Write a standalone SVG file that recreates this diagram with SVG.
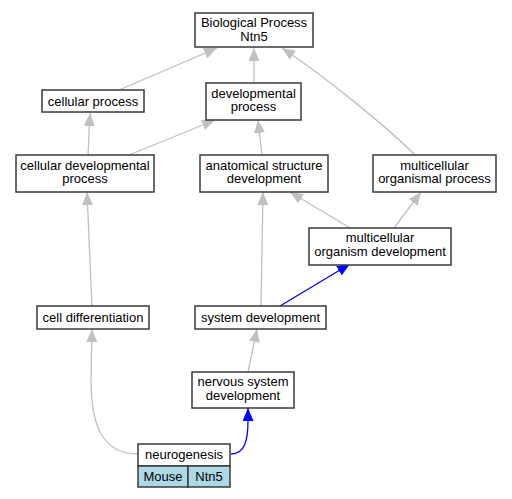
<svg xmlns="http://www.w3.org/2000/svg" width="512" height="499" viewBox="0 0 512 499">
<defs>
<style>
.n{fill:#ffffff;stroke:#3a3a3a;stroke-width:1.5}
.c{fill:#add8e6;stroke:#3a3a3a;stroke-width:1.5}
text{font-family:"Liberation Sans",Arial,sans-serif;font-size:13px;fill:#000;text-anchor:middle}
.e{fill:none;stroke:#c0c0c0;stroke-width:1.3}
.b{fill:none;stroke:#0000ff;stroke-width:1.3}
.eg{marker-end:url(#ag)}
.eb{marker-end:url(#ab)}
</style>
<marker id="ag" markerUnits="userSpaceOnUse" markerWidth="14" markerHeight="12" refX="13" refY="5.5" orient="auto"><path d="M0,0 L13,5.5 L0,11 z" fill="#c0c0c0"/></marker>
<marker id="ab" markerUnits="userSpaceOnUse" markerWidth="14" markerHeight="12" refX="13" refY="5.5" orient="auto"><path d="M0,0 L13,5.5 L0,11 z" fill="#0000ff"/></marker>
</defs>
<rect width="512" height="499" fill="#ffffff"/>
<g id="edges">
<path class="e eg" d="M119,90 L217,48"/>
<path class="e eg" d="M254,83 L254,48"/>
<path class="e eg" d="M415,155 C390,130 330,80 282,48"/>
<path class="e eg" d="M88,155 L90,113"/>
<path class="e eg" d="M129,155 L215,120"/>
<path class="e eg" d="M262,155 L258,120"/>
<path class="e eg" d="M92,306 L87,192"/>
<path class="e eg" d="M261,306 L263,192"/>
<path class="e eg" d="M350,228 L290,192"/>
<path class="e eg" d="M394,228 L421,192"/>
<path class="b eb" d="M280,306 L350,264"/>
<path class="e eg" d="M248,372 L257,329"/>
<path class="e eg" d="M138,454 C105,454 91,430 91,380 L92,329"/>
<path class="b eb" d="M231,454 C245,454 248,440 248,420 L248,408"/>
</g>
<g id="bp"><rect class="n" x="195" y="13" width="118" height="34"/><text x="254" y="27">Biological Process</text><text x="254" y="41">Ntn5</text></g>
<g id="cellular_process"><rect class="n" x="42" y="90" width="102" height="22"/><text x="93" y="105.5">cellular process</text></g>
<g id="developmental_process"><rect class="n" x="206" y="83" width="95" height="37"/><text x="253.5" y="97.5">developmental</text><text x="253.5" y="111">process</text></g>
<g id="cellular_developmental_process"><rect class="n" x="16" y="155" width="138" height="37"/><text x="85" y="169.5">cellular developmental</text><text x="85" y="183">process</text></g>
<g id="anatomical_structure_development"><rect class="n" x="200" y="155" width="128" height="37"/><text x="264" y="169.5">anatomical structure</text><text x="264" y="183">development</text></g>
<g id="multicellular_organismal_process"><rect class="n" x="373" y="155" width="123" height="37"/><text x="434.5" y="169.5">multicellular</text><text x="434.5" y="183">organismal process</text></g>
<g id="multicellular_organism_development"><rect class="n" x="309" y="228" width="142" height="37"/><text x="380" y="242">multicellular</text><text x="380" y="255.5">organism development</text></g>
<g id="cell_differentiation"><rect class="n" x="37" y="306" width="112" height="23"/><text x="93" y="322">cell differentiation</text></g>
<g id="system_development"><rect class="n" x="195" y="306" width="131" height="23"/><text x="260.5" y="322">system development</text></g>
<g id="nervous_system_development"><rect class="n" x="192" y="372" width="102" height="36"/><text x="243" y="386">nervous system</text><text x="243" y="399.5">development</text></g>
<g id="neurogenesis"><rect class="n" x="138" y="444" width="92" height="22"/><text x="184" y="459">neurogenesis</text><rect class="c" x="138" y="466" width="50" height="21"/><text x="163" y="481">Mouse</text><rect class="c" x="188" y="466" width="42" height="21"/><text x="209" y="481">Ntn5</text></g>
</svg>
